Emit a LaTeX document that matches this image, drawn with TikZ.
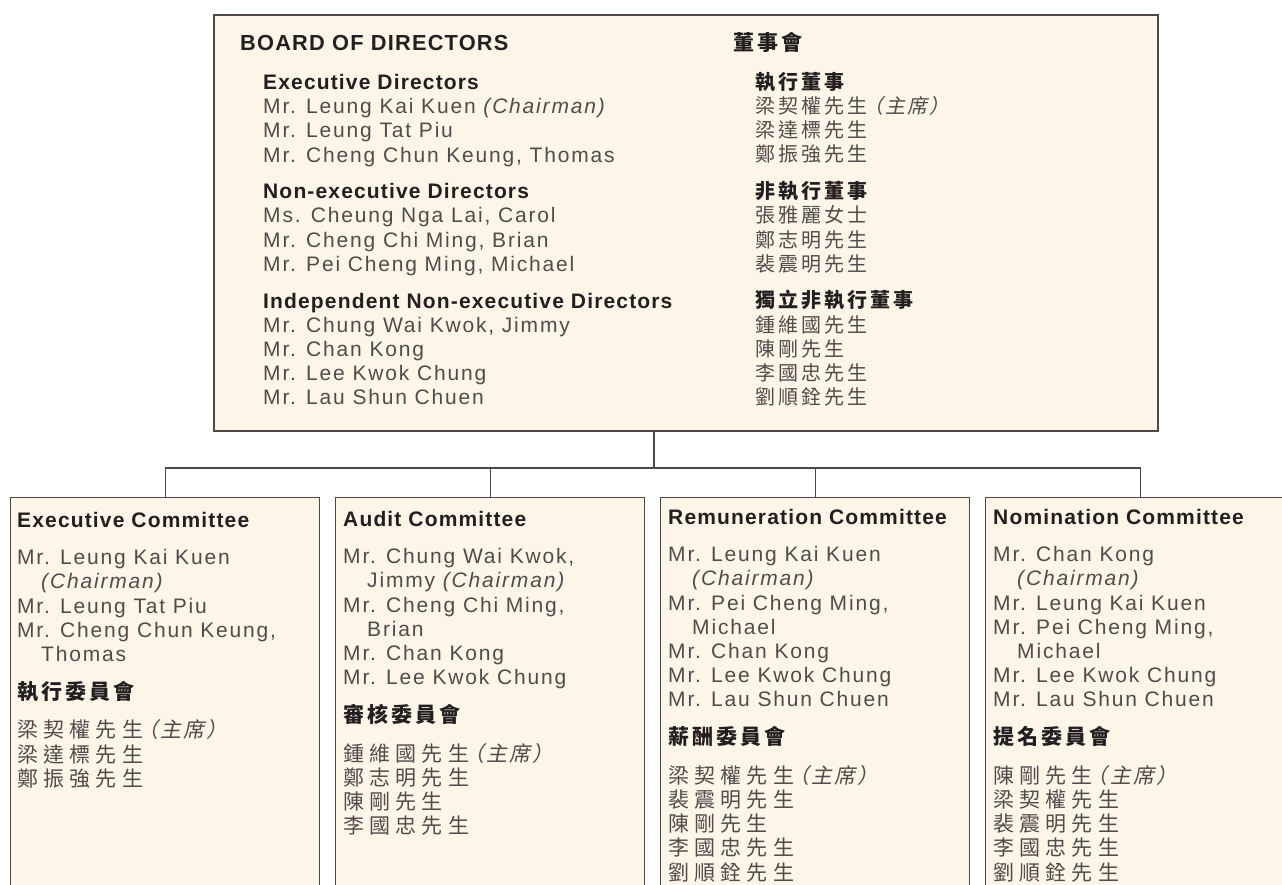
\documentclass[tikz,border=0pt]{standalone}
\usepackage{fontspec}
\setmainfont{Liberation Sans}[LetterSpace=8.7,BoldFeatures={LetterSpace=5.5}]
\newfontfamily\zhfont{Noto Sans CJK TC}[LetterSpace=15]
\newfontfamily\zhwfont{Noto Sans CJK TC}[LetterSpace=25]
\newfontfamily\zhslfont{Noto Sans CJK TC}[FakeSlant=0.2,LetterSpace=10]
\definecolor{paper}{HTML}{FEF5E9}
\definecolor{rule}{HTML}{4D4845}
\definecolor{ink}{HTML}{231F20}
\definecolor{name}{HTML}{4F4C4A}
\newcommand{\grp}[1]{{\color{ink}\bfseries #1}}
\newcommand{\chair}{\textit{(Chairman)}}
\newcommand{\ind}{\hspace*{24pt}}
\newcommand{\zhchair}{{\zhslfont\hspace{-4pt}（主席）}}
\newcommand{\zhwchair}{{\zhslfont\hspace{-6pt}（主席）}}
\begin{document}
\begin{tikzpicture}[x=1pt,y=-1pt,
    head/.style={anchor=base west,inner sep=0,text=ink,font=\fontsize{21.8}{24}\selectfont\bfseries},
    list/.style={anchor=north west,inner sep=0,align=left,text=name,font=\fontsize{21}{24.2}\selectfont},
    cbox/.style={draw=rule,line width=1.2pt,fill=paper,anchor=north west,minimum width=309pt,minimum height=400pt,inner sep=0}]
  \clip (0,0) rectangle (1282,885);
  % board of directors
  \node [draw=rule,line width=1.8pt,fill=paper,anchor=north west,minimum width=944pt,minimum height=416pt,inner sep=0] (board) at (213,14) {};
  \node [head] (boarden) at (240,51) {BOARD OF DIRECTORS};
  \node [head,font=\fontsize{21}{24}\selectfont\zhfont\bfseries] (boardzh) at (733,51) {董事會};
  \node [list] (dirs) at (263,74) {\grp{Executive Directors}\\
    Mr. Leung Kai Kuen \chair\\
    Mr. Leung Tat Piu\\
    Mr. Cheng Chun Keung, Thomas\\[12.5pt]
    \grp{Non-executive Directors}\\
    Ms. Cheung Nga Lai, Carol\\
    Mr. Cheng Chi Ming, Brian\\
    Mr. Pei Cheng Ming, Michael\\[12.5pt]
    \grp{Independent Non-executive Directors}\\
    Mr. Chung Wai Kwok, Jimmy\\
    Mr. Chan Kong\\
    Mr. Lee Kwok Chung\\
    Mr. Lau Shun Chuen};
  \node [list,font=\fontsize{20}{24.2}\selectfont\zhfont] (dirszh) at (755,72) {\grp{執行董事}\\
    梁契權先生\zhchair\\
    梁達標先生\\
    鄭振強先生\\[12.5pt]
    \grp{非執行董事}\\
    張雅麗女士\\
    鄭志明先生\\
    裴震明先生\\[12.5pt]
    \grp{獨立非執行董事}\\
    鍾維國先生\\
    陳剛先生\\
    李國忠先生\\
    劉順銓先生};
  % committees
  \node [cbox] (ecbox) at (10,497) {};
  \node [cbox] (acbox) at (335,497) {};
  \node [cbox] (rcbox) at (660,497) {};
  \node [cbox] (ncbox) at (985,497) {};
  \node [list] (ec) at (17,512) {\grp{Executive Committee}\\[13pt]
    Mr. Leung Kai Kuen\\
    \ind\chair\\
    Mr. Leung Tat Piu\\
    Mr. Cheng Chun Keung,\\
    \ind Thomas\\[13.5pt]
    {\zhfont\grp{執行委員會}}\\[14.5pt]
    {\zhwfont 梁契權先生}\zhwchair\\
    {\zhwfont 梁達標先生}\\
    {\zhwfont 鄭振強先生}};
  \node [list] (ac) at (343,511) {\grp{Audit Committee}\\[13pt]
    Mr. Chung Wai Kwok,\\
    \ind Jimmy \chair\\
    Mr. Cheng Chi Ming,\\
    \ind Brian\\
    Mr. Chan Kong\\
    Mr. Lee Kwok Chung\\[13.5pt]
    {\zhfont\grp{審核委員會}}\\[14.5pt]
    {\zhwfont 鍾維國先生}\zhwchair\\
    {\zhwfont 鄭志明先生}\\
    {\zhwfont 陳剛先生}\\
    {\zhwfont 李國忠先生}};
  \node [list] (rc) at (668,509) {\grp{Remuneration Committee}\\[13pt]
    Mr. Leung Kai Kuen\\
    \ind\chair\\
    Mr. Pei Cheng Ming,\\
    \ind Michael\\
    Mr. Chan Kong\\
    Mr. Lee Kwok Chung\\
    Mr. Lau Shun Chuen\\[13.5pt]
    {\zhfont\grp{薪酬委員會}}\\[14.5pt]
    {\zhwfont 梁契權先生}\zhwchair\\
    {\zhwfont 裴震明先生}\\
    {\zhwfont 陳剛先生}\\
    {\zhwfont 李國忠先生}\\
    {\zhwfont 劉順銓先生}};
  \node [list] (nc) at (993,509) {\grp{Nomination Committee}\\[13pt]
    Mr. Chan Kong\\
    \ind\chair\\
    Mr. Leung Kai Kuen\\
    Mr. Pei Cheng Ming,\\
    \ind Michael\\
    Mr. Lee Kwok Chung\\
    Mr. Lau Shun Chuen\\[13.5pt]
    {\zhfont\grp{提名委員會}}\\[14.5pt]
    {\zhwfont 陳剛先生}\zhwchair\\
    {\zhwfont 梁契權先生}\\
    {\zhwfont 裴震明先生}\\
    {\zhwfont 李國忠先生}\\
    {\zhwfont 劉順銓先生}};
  % connectors
  \coordinate (split) at (654,468);
  \draw [draw=rule,line width=1.8pt] (board.south -| split) -- (split);
  \draw [draw=rule,line width=1.2pt] (ecbox.north) -- (ecbox.north |- split) -- (ncbox.north |- split) -- (ncbox.north);
  \draw [draw=rule,line width=1.2pt] (acbox.north) -- (acbox.north |- split);
  \draw [draw=rule,line width=1.2pt] (rcbox.north) -- (rcbox.north |- split);
\end{tikzpicture}
\end{document}
